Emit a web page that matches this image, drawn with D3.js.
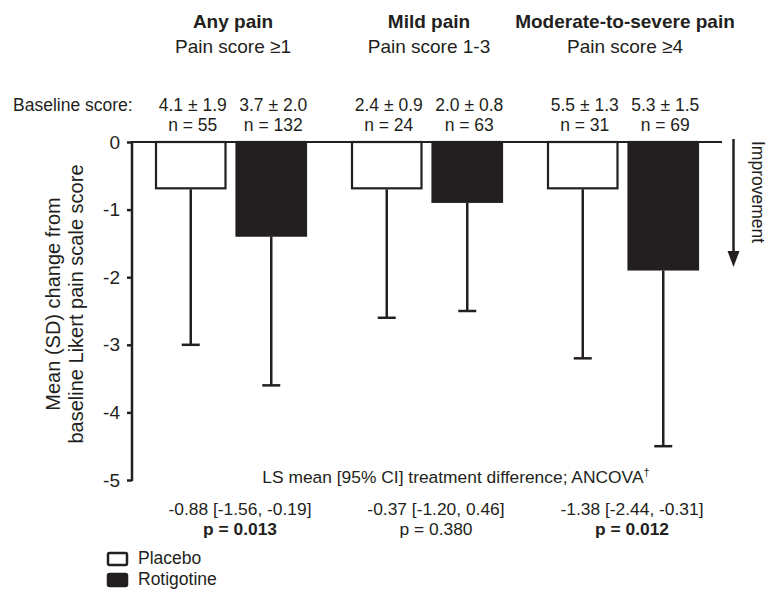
<!DOCTYPE html>
<html>
<head>
<meta charset="utf-8">
<script src="https://cdn.jsdelivr.net/npm/d3@7/dist/d3.min.js"></script>
<style>
  html, body { margin: 0; padding: 0; background: #fff; }
  svg text { font-family: "Liberation Sans", Arial, Helvetica, sans-serif; fill: #231f20; }
</style>
</head>
<body>
<svg id="chart" width="768" height="590"></svg>
<script>
// ---- data ----
const groups = ["Any pain", "Mild pain", "Moderate-to-severe pain"];
const subtitles = ["Pain score \u22651", "Pain score 1-3", "Pain score \u22654"];
const series = ["Placebo", "Rotigotine"];
const placeboMean = [-0.7, -0.7, -0.7];
const placeboSD = [2.3, 1.9, 2.5];
const rotigotineMean = [-1.4, -0.9, -1.9];
const rotigotineSD = [2.2, 1.6, 2.6];
const placeboBaseline = ["4.1 \u00b1 1.9", "2.4 \u00b1 0.9", "5.5 \u00b1 1.3"];
const rotigotineBaseline = ["3.7 \u00b1 2.0", "2.0 \u00b1 0.8", "5.3 \u00b1 1.5"];
const placeboN = [55, 24, 31];
const rotigotineN = [132, 63, 69];
const lsMeanDiff = ["-0.88 [-1.56, -0.19]", "-0.37 [-1.20, 0.46]", "-1.38 [-2.44, -0.31]"];
const pValues = ["0.013", "0.380", "0.012"];
const significant = [true, false, true];
const yTicks = [0, -1, -2, -3, -4, -5];

// ---- build ----
const ink = "#231f20";
const svg = d3.select("#chart");
const y = d3.scaleLinear().domain([0, -5]).range([142, 480]);
const x0 = d3.scaleBand().domain(groups).range([132, 720]).paddingInner(0);
const x1 = d3.scaleBand().domain(series).range([23, 175]).paddingInner(0.112);

const rows = [];
groups.forEach((g, i) => {
  rows.push({ g, s: "Placebo", mean: placeboMean[i], sd: placeboSD[i], base: placeboBaseline[i], n: placeboN[i] });
  rows.push({ g, s: "Rotigotine", mean: rotigotineMean[i], sd: rotigotineSD[i], base: rotigotineBaseline[i], n: rotigotineN[i] });
});
const bx = d => x0(d.g) + x1(d.s);
const bc = d => bx(d) + x1.bandwidth() / 2;

// y axis
const yAxis = d3.axisLeft(y).tickValues(yTicks).tickFormat(d => String(d)).tickSize(5).tickPadding(7);
const ag = svg.append("g").attr("transform", "translate(132,0)").call(yAxis);
ag.select(".domain").attr("stroke", ink).attr("stroke-width", 2.5).attr("d", `M0,${y(0) - 1}V${y(-5) + 1}`);
ag.selectAll(".tick line").attr("stroke", ink).attr("stroke-width", 2.5);
ag.selectAll(".tick text").attr("font-size", 19).attr("fill", ink)
  .style("font-family", "'Liberation Sans', Arial, sans-serif");

// error bars (behind bars)
const eb = svg.append("g").attr("stroke", ink).attr("stroke-width", 2.5);
rows.forEach(d => {
  eb.append("line").attr("x1", bc(d)).attr("x2", bc(d)).attr("y1", y(d.mean)).attr("y2", y(d.mean - d.sd));
  eb.append("line").attr("x1", bc(d) - 9).attr("x2", bc(d) + 9).attr("y1", y(d.mean - d.sd)).attr("y2", y(d.mean - d.sd));
});

// bars
svg.append("g").selectAll("rect").data(rows).join("rect")
  .attr("x", d => bx(d) + 1)
  .attr("y", y(0))
  .attr("width", x1.bandwidth() - 2)
  .attr("height", d => y(d.mean) - y(0) - 1)
  .attr("fill", d => d.s === "Placebo" ? "#fff" : ink)
  .attr("stroke", ink).attr("stroke-width", 2.2);

// zero line
svg.append("line").attr("x1", 132).attr("x2", 722).attr("y1", y(0)).attr("y2", y(0))
  .attr("stroke", ink).attr("stroke-width", 2.2);

// headers
groups.forEach((g, i) => {
  const cx = x0(g) + x0.bandwidth() / 2 + 3;
  svg.append("text").attr("x", cx).attr("y", 28).attr("text-anchor", "middle")
    .attr("font-size", 19).attr("font-weight", "bold").text(g);
  svg.append("text").attr("x", cx).attr("y", 53).attr("text-anchor", "middle")
    .attr("font-size", 19).text(subtitles[i]);
});

// baseline scores
svg.append("text").attr("x", 13).attr("y", 111).attr("font-size", 17.5).text("Baseline score:");
svg.append("g").selectAll("text.base").data(rows).join("text")
  .attr("x", d => bc(d) + 2).attr("y", 111).attr("text-anchor", "middle").attr("font-size", 17.5)
  .text(d => d.base);
svg.append("g").selectAll("text.n").data(rows).join("text")
  .attr("x", d => bc(d) + 2).attr("y", 131).attr("text-anchor", "middle").attr("font-size", 17.5)
  .text(d => "n = " + d.n);

// y label
const yl = svg.append("text").attr("transform", "translate(60,304) rotate(-90)")
  .attr("text-anchor", "middle").attr("font-size", 20);
yl.append("tspan").attr("x", 0).attr("y", 0).text("Mean (SD) change from");
yl.append("tspan").attr("x", 0).attr("y", 23).text("baseline Likert pain scale score");

// improvement arrow
svg.append("line").attr("x1", 733.5).attr("x2", 733.5).attr("y1", 139).attr("y2", 253)
  .attr("stroke", ink).attr("stroke-width", 2.5);
svg.append("path").attr("d", "M727.5,251L739.5,251L733.5,267Z").attr("fill", ink);
svg.append("text").attr("transform", "translate(752,141) rotate(90)")
  .attr("font-size", 17.5).text("Improvement");

// LS mean title
const ls = svg.append("text").attr("x", 456).attr("y", 483).attr("text-anchor", "middle").attr("font-size", 17.4);
ls.append("tspan").text("LS mean [95% CI] treatment difference; ANCOVA");
ls.append("tspan").attr("font-size", 11).attr("dy", -7).text("\u2020");

groups.forEach((g, i) => {
  const cx = x0(g) + x0.bandwidth() / 2 + 10;
  svg.append("text").attr("x", cx).attr("y", 515).attr("text-anchor", "middle")
    .attr("font-size", 17.4).text(lsMeanDiff[i]);
  svg.append("text").attr("x", cx).attr("y", 535).attr("text-anchor", "middle")
    .attr("font-size", 17.4).attr("font-weight", significant[i] ? "bold" : "normal")
    .text("p = " + pValues[i]);
});

// legend
const lg = svg.append("g");
series.forEach((s, i) => {
  lg.append("rect").attr("x", 108).attr("y", 553 + i * 21).attr("width", 19).attr("height", 12)
    .attr("rx", 1.5).attr("fill", i === 0 ? "#fff" : ink).attr("stroke", ink).attr("stroke-width", 2.5);
  lg.append("text").attr("x", 138).attr("y", 564 + i * 21).attr("font-size", 17.5).text(s);
});
</script>
</body>
</html>
